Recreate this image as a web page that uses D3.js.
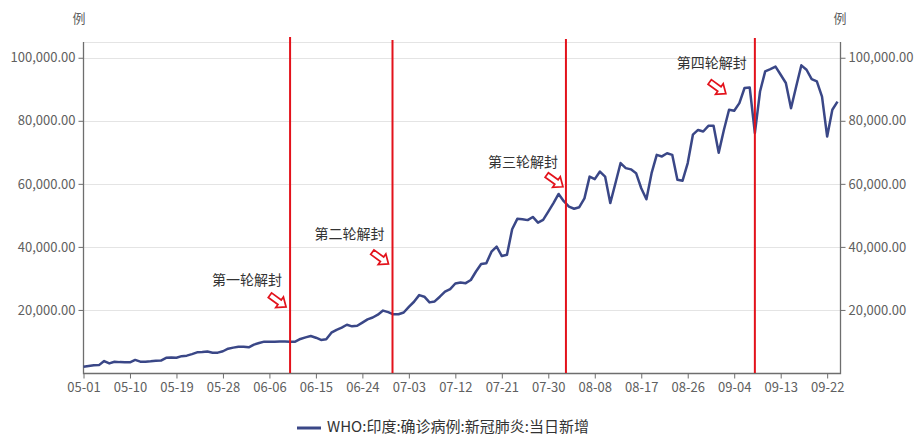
<!DOCTYPE html>
<html>
<head>
<meta charset="utf-8">
<script src="https://cdn.jsdelivr.net/npm/d3@7/dist/d3.min.js"></script>
<style>
  body { margin: 0; background: #fff; }
  svg { display: block; }
  text { font-family: "Noto Sans CJK SC", "Noto Sans", sans-serif; }
</style>
</head>
<body>
<svg id="chart" width="915" height="436"></svg>
<script>
// ---- data ----
const firstDay = new Date(2020, 4, 1);   // 05-01
const lastDay = new Date(2020, 8, 24);   // 09-24
const seriesName = "WHO:印度:确诊病例:新冠肺炎:当日新增";
const unitLabel = "例";

// daily new confirmed cases, one per day from 05-01
const newCases = [
  2000, 2250, 2450, 2500, 3800, 3050, 3550, 3450, 3400, 3400,
  4150, 3600, 3550, 3700, 3900, 3950, 4800, 4900, 4850, 5350,
  5500, 6000, 6550, 6650, 6800, 6450, 6450, 6900, 7700, 8050,
  8300, 8350, 8150, 9000, 9500, 9950, 9950, 9950, 10000, 10000,
  9950, 9950, 10800, 11300, 11750, 11200, 10500, 10700, 12800, 13700,
  14400, 15300, 14800, 15000, 16000, 17000, 17600, 18500, 19800, 19300,
  18600, 18650, 19200, 21000, 22600, 24700, 24200, 22400, 22700, 24200,
  25800, 26600, 28400, 28700, 28500, 29500, 32200, 34600, 34800, 38500,
  40100, 37100, 37500, 45600, 48900, 48800, 48500, 49500, 47700, 48600,
  51200, 53900, 56800, 54500, 52800, 52100, 52600, 55400, 62300, 61500,
  63900, 62300, 53900, 60200, 66600, 65000, 64600, 63400, 58600, 55100,
  63400, 69200, 68700, 69700, 69200, 61300, 61000, 66600, 75600, 77100,
  76600, 78400, 78400, 69900, 77100, 83500, 83200, 85600, 90400, 90600,
  76100, 89300, 95700, 96400, 97200, 94600, 92000, 84000, 90900, 97600,
  96200, 93200, 92500, 87700, 75000, 83500, 86100
];

const xTickLabels = ["05-01", "05-10", "05-19", "05-28", "06-06", "06-15", "06-24",
  "07-03", "07-12", "07-21", "07-30", "08-08", "08-17", "08-26", "09-04", "09-13", "09-22"];
const yTickValues = [20000, 40000, 60000, 80000, 100000];
const yMax = 105000;

// reopening phases (marker placed at the given moment)
const reopenTimes = ["2020-06-10T00:00", "2020-06-29T20:00", "2020-08-02T10:00", "2020-09-08T00:00"];
const reopenNames = ["第一轮解封", "第二轮解封", "第三轮解封", "第四轮解封"];
const reopenNameLevel = [29200, 43800, 66700, 97800];

// ---- layout ----
const plot = { left: 83, right: 840, top: 42, bottom: 373 };
const lineEnd = 837.5;
const arrowShift = [4, 4, 5, -21];     // arrow tip relative to caption end
const arrowDrop = [26, 29, 24, 29];    // arrow tip below caption centre
const markerTop = [37, 40, 39, 38];
const lineColor = "#3a4787";
const red = "#e3121b";
const axisColor = "#6e6e6e";
const labelColor = "#606060";

const days = d3.timeDay.range(firstDay, d3.timeDay.offset(lastDay, 1));
const fmtDay = d3.timeFormat("%m-%d");
const parseDay = s => d3.timeParse("%Y-%m-%d")("2020-" + s);
const parseTime = d3.timeParse("%Y-%m-%dT%H:%M");

const svg = d3.select("#chart");

const x = d3.scaleTime().domain([firstDay, lastDay]).range([plot.left + 0.5, lineEnd]);
const y = d3.scaleLinear().domain([0, yMax]).range([plot.bottom, plot.top]);

// grid
svg.append("g")
  .selectAll("line")
  .data(yTickValues.concat([yMax]))
  .join("line")
  .attr("x1", plot.left).attr("x2", plot.right)
  .attr("y1", d => Math.round(y(d)) + 0.5).attr("y2", d => Math.round(y(d)) + 0.5)
  .attr("stroke", "#e4e4e4").attr("stroke-width", 1);

const fmt = d3.format(",.2f");

function styleAxis(g) {
  g.selectAll(".domain").remove();
  g.selectAll(".tick line").attr("stroke", axisColor);
  g.selectAll(".tick text").attr("fill", labelColor).attr("font-size", 13)
    .attr("font-family", "\"Noto Sans CJK SC\", \"Noto Sans\", sans-serif");
}

// left axis
svg.append("g")
  .attr("transform", `translate(${plot.left + 0.5},0)`)
  .call(d3.axisLeft(y).tickValues(yTickValues).tickFormat(fmt).tickSize(5).tickPadding(3))
  .call(styleAxis);

// right axis
svg.append("g")
  .attr("transform", `translate(${plot.right + 0.5},0)`)
  .call(d3.axisRight(y).tickValues(yTickValues).tickFormat(fmt).tickSize(5).tickPadding(3))
  .call(styleAxis);

// bottom axis
svg.append("g")
  .attr("transform", `translate(0,${plot.bottom + 0.5})`)
  .call(d3.axisBottom(x).tickValues(xTickLabels.map(parseDay)).tickFormat(fmtDay)
    .tickSize(5).tickPadding(4))
  .call(styleAxis);

// axis lines
svg.append("path")
  .attr("d", `M${plot.left + 0.5},${plot.top}V${plot.bottom + 0.5}H${plot.right + 0.5}V${plot.top}`)
  .attr("fill", "none").attr("stroke", axisColor).attr("stroke-width", 1.3);

// unit labels
svg.selectAll(".unit")
  .data([plot.left - 4, plot.right])
  .join("text")
  .attr("x", d => d).attr("y", 19)
  .attr("text-anchor", "middle").attr("dominant-baseline", "middle")
  .attr("font-size", 13).attr("fill", labelColor)
  .text(unitLabel);

// series line
const line = d3.line()
  .x((d, i) => x(days[i]))
  .y(d => y(d));

svg.append("path")
  .datum(newCases)
  .attr("d", line)
  .attr("fill", "none")
  .attr("stroke", lineColor)
  .attr("stroke-width", 2.5)
  .attr("stroke-linejoin", "round");

// reopening markers
const reopen = reopenTimes.map((t, i) => ({
  t: parseTime(t), name: reopenNames[i], level: reopenNameLevel[i], i
}));

svg.append("g")
  .selectAll("line")
  .data(reopen)
  .join("line")
  .attr("x1", d => x(d.t)).attr("x2", d => x(d.t))
  .attr("y1", d => markerTop[d.i]).attr("y2", plot.bottom)
  .attr("stroke", red).attr("stroke-width", 2);

const notes = svg.append("g")
  .selectAll("g")
  .data(reopen)
  .join("g");

notes.append("text")
  .attr("x", d => x(d.t) - 8)
  .attr("y", d => y(d.level))
  .attr("text-anchor", "end")
  .attr("dominant-baseline", "middle")
  .attr("font-size", 14)
  .attr("fill", "#333")
  .text(d => d.name);

// hollow block arrows pointing down-right
const arrowPath = "M0,0 L-8,-6.5 L-8,-2.8 L-20,-2.8 L-20,2.8 L-8,2.8 L-8,6.5 Z";
notes.append("path")
  .attr("d", arrowPath)
  .attr("transform", d => `translate(${x(d.t) - 8 + arrowShift[d.i]},${y(d.level) + arrowDrop[d.i]}) rotate(36)`)
  .attr("fill", "#fff")
  .attr("stroke", red)
  .attr("stroke-width", 1.7)
  .attr("stroke-linejoin", "miter");

// legend
const legend = svg.append("g").attr("transform", "translate(297,428)");
legend.append("line")
  .attr("x1", 0).attr("x2", 24)
  .attr("stroke", lineColor).attr("stroke-width", 3);
legend.append("text")
  .attr("x", 30).attr("y", 0)
  .attr("dominant-baseline", "middle")
  .attr("font-size", 15)
  .attr("fill", "#333")
  .text(seriesName);
</script>
</body>
</html>
